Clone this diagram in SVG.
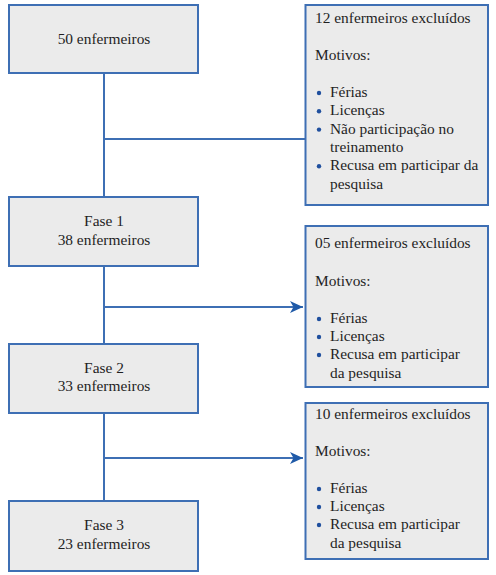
<svg xmlns="http://www.w3.org/2000/svg" width="496" height="575" viewBox="0 0 496 575">
<style>
.box{fill:#ebebeb;stroke:#3e6fb4;stroke-width:2}
.ln{stroke:#3e6fb4;stroke-width:2;fill:none}
.b{fill:#1f4f9e}
</style>
<defs>
<marker id="ah" markerWidth="14" markerHeight="12" refX="13" refY="6" orient="auto" markerUnits="userSpaceOnUse">
<path d="M0,0 L13,6 L0,12 L3.5,6 Z" fill="#1f5aa8"/>
</marker>
</defs>
<rect width="496" height="575" fill="#fff"/>
<g id="connectors">
<line class="ln" x1="104" y1="73" x2="104" y2="197"/>
<line class="ln" x1="104" y1="139" x2="305" y2="139"/>
<line class="ln" x1="104" y1="266" x2="104" y2="344"/>
<line class="ln" x1="104" y1="307" x2="303" y2="307" marker-end="url(#ah)"/>
<line class="ln" x1="104" y1="413" x2="104" y2="501"/>
<line class="ln" x1="104" y1="458" x2="303" y2="458" marker-end="url(#ah)"/>
</g>
<g id="n50">
<rect class="box" x="9" y="5" width="189" height="68"/>
<text font-family="Liberation Serif" font-size="15.4" fill="#1f1f1f" text-anchor="middle" x="104" y="44">50 enfermeiros</text>
</g>
<g id="fase1">
<rect class="box" x="9" y="197" width="189" height="69"/>
<text font-family="Liberation Serif" font-size="15.4" fill="#1f1f1f" text-anchor="middle" x="104" y="226">Fase 1</text>
<text font-family="Liberation Serif" font-size="15.4" fill="#1f1f1f" text-anchor="middle" x="104" y="245">38 enfermeiros</text>
</g>
<g id="fase2">
<rect class="box" x="9" y="344" width="189" height="69"/>
<text font-family="Liberation Serif" font-size="15.4" fill="#1f1f1f" text-anchor="middle" x="104" y="373">Fase 2</text>
<text font-family="Liberation Serif" font-size="15.4" fill="#1f1f1f" text-anchor="middle" x="104" y="391">33 enfermeiros</text>
</g>
<g id="fase3">
<rect class="box" x="9" y="501" width="189" height="70"/>
<text font-family="Liberation Serif" font-size="15.4" fill="#1f1f1f" text-anchor="middle" x="104" y="530">Fase 3</text>
<text font-family="Liberation Serif" font-size="15.4" fill="#1f1f1f" text-anchor="middle" x="104" y="549">23 enfermeiros</text>
</g>
<g id="excl1">
<rect class="box" x="305.5" y="5" width="182.5" height="200"/>
<text font-family="Liberation Serif" font-size="15.4" fill="#1f1f1f" x="315" y="23">12 enfermeiros excluídos</text>
<text font-family="Liberation Serif" font-size="15.4" fill="#1f1f1f" x="315" y="60">Motivos:</text>
<circle class="b" cx="319" cy="93" r="2.2"/>
<text font-family="Liberation Serif" font-size="15.4" fill="#1f1f1f" x="330" y="97">Férias</text>
<circle class="b" cx="319" cy="111.3" r="2.2"/>
<text font-family="Liberation Serif" font-size="15.4" fill="#1f1f1f" x="330" y="115.3">Licenças</text>
<circle class="b" cx="319" cy="129.6" r="2.2"/>
<text font-family="Liberation Serif" font-size="15.4" fill="#1f1f1f" x="330" y="133.6">Não participação no</text>
<text font-family="Liberation Serif" font-size="15.4" fill="#1f1f1f" x="330" y="152">treinamento</text>
<circle class="b" cx="319" cy="166.3" r="2.2"/>
<text font-family="Liberation Serif" font-size="15.4" fill="#1f1f1f" x="330" y="170.3">Recusa em participar da</text>
<text font-family="Liberation Serif" font-size="15.4" fill="#1f1f1f" x="330" y="188.6">pesquisa</text>
</g>
<g id="excl2">
<rect class="box" x="305.5" y="226" width="182.5" height="161"/>
<text font-family="Liberation Serif" font-size="15.4" fill="#1f1f1f" x="315" y="248">05 enfermeiros excluídos</text>
<text font-family="Liberation Serif" font-size="15.4" fill="#1f1f1f" x="315" y="286">Motivos:</text>
<circle class="b" cx="319" cy="319" r="2.2"/>
<text font-family="Liberation Serif" font-size="15.4" fill="#1f1f1f" x="330" y="323">Férias</text>
<circle class="b" cx="319" cy="337" r="2.2"/>
<text font-family="Liberation Serif" font-size="15.4" fill="#1f1f1f" x="330" y="341">Licenças</text>
<circle class="b" cx="319" cy="355" r="2.2"/>
<text font-family="Liberation Serif" font-size="15.4" fill="#1f1f1f" x="330" y="359">Recusa em participar</text>
<text font-family="Liberation Serif" font-size="15.4" fill="#1f1f1f" x="330" y="378">da pesquisa</text>
</g>
<g id="excl3">
<rect class="box" x="305.5" y="403" width="182.5" height="156"/>
<text font-family="Liberation Serif" font-size="15.4" fill="#1f1f1f" x="315" y="419">10 enfermeiros excluídos</text>
<text font-family="Liberation Serif" font-size="15.4" fill="#1f1f1f" x="315" y="456">Motivos:</text>
<circle class="b" cx="319" cy="489" r="2.2"/>
<text font-family="Liberation Serif" font-size="15.4" fill="#1f1f1f" x="330" y="493">Férias</text>
<circle class="b" cx="319" cy="507" r="2.2"/>
<text font-family="Liberation Serif" font-size="15.4" fill="#1f1f1f" x="330" y="511">Licenças</text>
<circle class="b" cx="319" cy="525" r="2.2"/>
<text font-family="Liberation Serif" font-size="15.4" fill="#1f1f1f" x="330" y="529">Recusa em participar</text>
<text font-family="Liberation Serif" font-size="15.4" fill="#1f1f1f" x="330" y="548">da pesquisa</text>
</g>
</svg>
